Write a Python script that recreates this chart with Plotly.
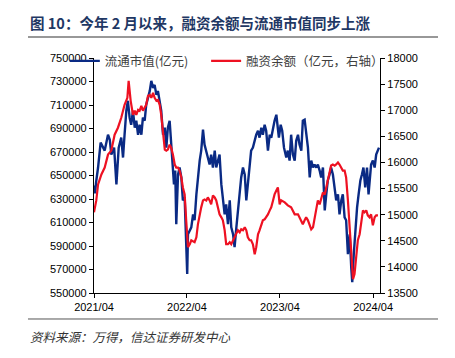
import pandas as pd
import plotly.graph_objects as go

START = "2021-04-01"
title_text = "图 10：今年 2 月以来，融资余额与流通市值同步上涨"
source_text = "资料来源：万得，信达证券研发中心"
blue_name = "流通市值(亿元)"
red_name = "融资余额（亿元，右轴）"

# days since 2021-04-01, 流通市值 (亿元)
blue_day = [0, 4, 8, 16, 26, 35, 42, 55, 62, 68, 79, 88, 97, 107, 114, 120, 127, 133, 140, 146,
            153, 160, 166, 173, 179, 186, 192, 199, 205, 212, 219, 225, 232, 238, 245, 251, 258, 264, 271, 278,
            284, 290, 297, 303, 310, 314, 319, 323, 330, 336, 343, 349, 356, 362, 366, 369, 382, 389, 395, 402,
            408, 415, 421, 428, 434, 441, 447, 454, 460, 467, 474, 480, 487, 493, 500, 506, 513, 519, 526, 533,
            539, 546, 552, 559, 565, 572, 578, 585, 592, 598, 604, 611, 617, 624, 631, 637, 644, 650, 657, 663,
            670, 676, 683, 690, 696, 703, 709, 716, 722, 726, 733, 739, 746, 755, 761, 768, 774, 781, 788, 794,
            801, 807, 814, 820, 827, 833, 840, 847, 853, 860, 866, 873, 879, 886, 892, 899, 906, 912, 918, 925,
            931, 938, 945, 951, 958, 964, 971, 977, 984, 990, 997, 1004, 1010, 1014, 1020, 1025, 1033, 1039, 1046, 1052,
            1058, 1065, 1072, 1078, 1083, 1088, 1095, 1102, 1108, 1115, 1119]
blue_val = [641500, 634800, 644000, 656800, 678000, 673700, 671200, 684700, 680500, 667800,
            673700, 642400, 673700, 682200, 665300, 684700, 705100, 713600, 699200, 693200,
            705100, 690700, 696600, 684700, 693200, 684700, 699200, 696600, 710200, 716100,
            722000, 730500, 724600, 727100, 718600, 722000, 710200, 705100, 684700, 690700,
            673700, 690700, 696600, 679700, 659300, 642400, 654200, 608500, 650800, 656800,
            648300, 628800, 631400, 583000, 566100, 600000, 605900, 616900, 611900, 633900,
            648300, 662700, 671200, 689000, 676300, 671200, 665300, 659300, 667800, 656800,
            671200, 656800, 662700, 667800, 642400, 628800, 616900, 625400, 608500, 628800,
            605900, 600000, 589000, 605900, 620300, 633900, 648300, 656800, 650800, 628800,
            642400, 656800, 671200, 673700, 679700, 684700, 688100, 682200, 690700, 684700,
            693200, 688100, 671200, 684700, 682200, 690700, 696600, 701700, 688100, 682200,
            693200, 688100, 673700, 665300, 671200, 662700, 684700, 667800, 662700, 679700,
            684700, 676300, 671200, 696600, 697500, 684700, 673700, 648300, 662700, 656800,
            659300, 656800, 659300, 654200, 648300, 656800, 620300, 633900, 645800, 650800,
            656800, 650800, 639800, 628800, 633900, 616900, 628800, 633900, 614400, 611900,
            583000, 600000, 572000, 559300, 583000, 600000, 622900, 633900, 645800, 650800,
            656800, 639800, 656800, 633900, 650800, 659300, 662700, 656800, 667800, 671200, 673700]

# days since 2021-04-01, 融资余额 (亿元)
red_day = [0, 9, 16, 29, 42, 55, 68, 81, 94, 107, 120, 131, 136, 144, 153, 160, 166, 173, 179, 186,
           192, 199, 205, 212, 219, 225, 232, 238, 245, 251, 258, 264, 271, 278, 284, 290, 297, 303, 310, 317,
           323, 330, 336, 343, 349, 356, 362, 369, 376, 382, 395, 402, 408, 415, 421, 428, 434, 441, 447, 454,
           460, 467, 474, 480, 487, 493, 500, 506, 513, 519, 526, 533, 539, 546, 552, 559, 565, 572, 578, 585,
           592, 598, 604, 611, 617, 624, 631, 637, 644, 650, 657, 663, 670, 676, 683, 690, 696, 703, 709, 716,
           719, 722, 729, 735, 749, 761, 774, 788, 801, 814, 820, 827, 833, 840, 847, 853, 860, 866, 873, 879,
           886, 892, 899, 906, 912, 918, 925, 931, 938, 945, 951, 958, 964, 971, 977, 984, 990, 997, 1004, 1010,
           1017, 1023, 1030, 1036, 1043, 1049, 1056, 1062, 1069, 1075, 1082, 1088, 1095, 1102, 1108, 1115]
red_val = [15044, 15273, 15578, 15769, 15902, 16150, 16227, 16532, 16665, 16856, 17104, 17237, 17561, 17180,
           16913, 16990, 16913, 17008, 16990, 17085, 16990, 17047, 17104, 17275, 17294, 17237, 17333, 17237,
           17180, 17199, 17104, 16913, 16532, 16246, 16227, 16246, 16341, 16284, 16150, 15960, 15902, 15902,
           15845, 15712, 15521, 15388, 14892, 14377, 14434, 14510, 14472, 14567, 14815, 15006, 15140, 15273,
           15292, 15273, 15330, 15273, 15197, 15369, 15330, 15273, 15140, 15006, 14949, 14892, 14701, 14434,
           14434, 14472, 14434, 14510, 14567, 14625, 14701, 14663, 14720, 14701, 14758, 14701, 14567, 14510,
           14510, 14434, 14243, 14377, 14625, 14701, 14815, 14892, 14911, 14949, 15006, 15082, 15140, 15273,
           15388, 15464, 15483, 15521, 15197, 15273, 15235, 15178, 15140, 15006, 15006, 14892, 14815, 14892,
           14949, 14892, 14815, 14720, 14758, 14949, 15140, 15273, 15197, 15330, 15426, 15388, 15521, 15655,
           15845, 15940, 15960, 15940, 15960, 15998, 15960, 15902, 15845, 15845, 15712, 15273, 14758, 14129,
           13766, 13862, 14243, 14510, 14625, 14815, 15082, 15044, 15082, 14987, 14949, 15006, 14796, 14949,
           14987, 14987]

x_ticks = ["2021-04-01", "2022-04-01", "2023-04-01", "2024-04-01"]
x_tick_labels = ["2021/04", "2022/04", "2023/04", "2024/04"]

start = pd.Timestamp(START)
blue_x = [start + pd.Timedelta(days=d) for d in blue_day]
red_x = [start + pd.Timedelta(days=d) for d in red_day]

BLUE = "#0A2A84"
RED = "#EE1122"
TICKFONT = dict(family="Liberation Sans, Arial", size=11, color="#000000")
LEGFONT = dict(family="Noto Sans CJK SC", size=12.5, color="#404040")

fig = go.Figure()
fig.add_trace(go.Scatter(x=blue_x, y=blue_val, mode="lines", name=blue_name,
                         line=dict(color=BLUE, width=2.4), yaxis="y", legend="legend"))
fig.add_trace(go.Scatter(x=red_x, y=red_val, mode="lines", name=red_name,
                         line=dict(color=RED, width=2.2), yaxis="y2", legend="legend2"))

fig.update_layout(
    width=455, height=358,
    margin=dict(l=86, r=83, t=50, b=73),
    paper_bgcolor="white", plot_bgcolor="white",
    showlegend=True,
    legend=dict(x=-0.102, y=1.05, xanchor="left", yanchor="top",
                bgcolor="rgba(0,0,0,0)", font=LEGFONT, itemwidth=30),
    legend2=dict(x=0.392, y=1.05, xanchor="left", yanchor="top",
                 bgcolor="rgba(0,0,0,0)", font=LEGFONT, itemwidth=30),
    xaxis=dict(type="date", range=["2021-04-01", "2024-04-28"],
               tickvals=x_ticks, ticktext=x_tick_labels,
               showgrid=False, zeroline=False,
               showline=True, linecolor="black", linewidth=1.3,
               ticks="outside", ticklen=4, tickcolor="black", tickwidth=1.2,
               tickfont=TICKFONT),
    yaxis=dict(range=[550000, 750000], dtick=20000, tick0=550000,
               showgrid=False, zeroline=False,
               showline=True, linecolor="black", linewidth=1.3,
               ticks="outside", ticklen=4, tickcolor="black", tickwidth=1.2,
               tickfont=TICKFONT, tickformat="d"),
    yaxis2=dict(range=[13500, 18000], dtick=500, tick0=13500,
                overlaying="y", side="right",
                showgrid=False, zeroline=False,
                showline=True, linecolor="black", linewidth=1.3,
                ticks="outside", ticklen=4, tickcolor="black", tickwidth=1.2,
                tickfont=TICKFONT, tickformat="d"),
)

fig.add_annotation(text=title_text, xref="paper", yref="paper",
                   x=-0.2308, y=1.153, xanchor="left", yanchor="middle", showarrow=False,
                   font=dict(family="Noto Sans CJK SC", size=14.5, color="#1F3864", weight="bold"))
fig.add_annotation(text=source_text, xref="paper", yref="paper",
                   x=-0.2308, y=-0.183, xanchor="left", yanchor="middle", showarrow=False,
                   font=dict(family="Noto Sans CJK SC", size=12.5, color="#333333", style="italic"))
fig.add_shape(type="line", xref="paper", yref="paper", x0=-0.2308, x1=1.2028, y0=1.0894, y1=1.0894,
              line=dict(color="#333333", width=1.2))
fig.add_shape(type="line", xref="paper", yref="paper", x0=-0.2308, x1=1.2028, y0=-0.1106, y1=-0.1106,
              line=dict(color="#555555", width=1))

fig.write_html("out.html")
